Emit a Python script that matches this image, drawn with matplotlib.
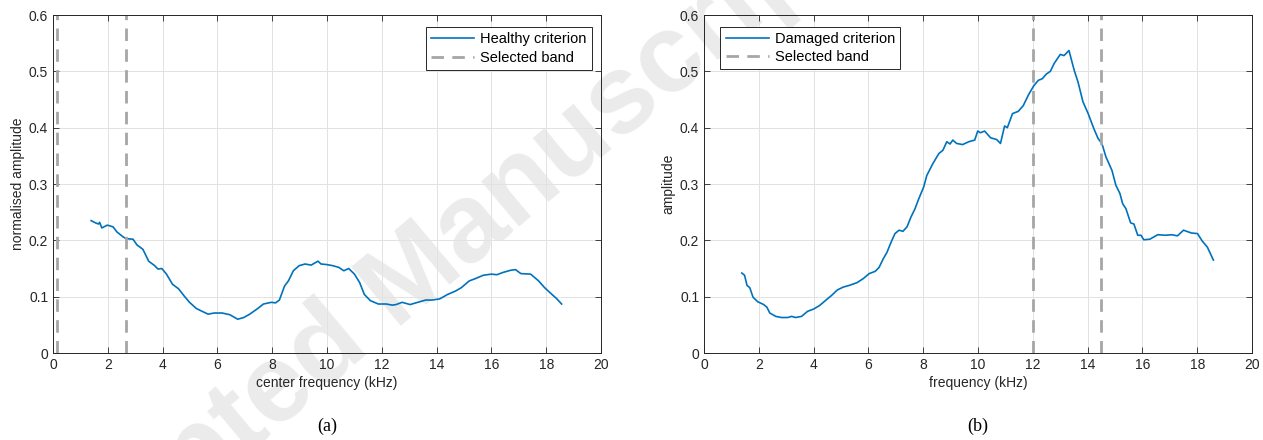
import numpy as np
import matplotlib.pyplot as plt

plt.rcParams['font.family'] = ['Liberation Sans', 'DejaVu Sans']

# healthy criterion (panel a)
healthy_f = [1.39, 1.55, 1.66, 1.70, 1.78, 1.98, 2.19, 2.33, 2.56, 2.67, 2.92, 3.06, 3.28,
             3.49, 3.71, 3.83, 3.97, 4.14, 4.36, 4.58, 4.79, 4.98, 5.23, 5.44, 5.66, 5.88,
             6.17, 6.45, 6.74, 6.96, 7.18, 7.47, 7.68, 7.97, 8.12, 8.26, 8.45, 8.59, 8.77,
             8.98, 9.20, 9.42, 9.56, 9.67, 9.78, 9.99, 10.21, 10.43, 10.61, 10.79, 11.00,
             11.19, 11.36, 11.58, 11.87, 12.16, 12.38, 12.52, 12.74, 13.03, 13.31, 13.60,
             13.82, 14.11, 14.40, 14.69, 14.90, 15.19, 15.41, 15.70, 15.99, 16.20, 16.42,
             16.71, 16.88, 17.07, 17.43, 17.72, 17.94, 18.23, 18.37, 18.56]
healthy_v = [0.235, 0.231, 0.229, 0.232, 0.222, 0.227, 0.224, 0.215, 0.206, 0.203, 0.202,
             0.192, 0.184, 0.163, 0.155, 0.149, 0.150, 0.140, 0.122, 0.114, 0.101, 0.090,
             0.079, 0.074, 0.069, 0.071, 0.071, 0.068, 0.060, 0.063, 0.069, 0.079, 0.087,
             0.090, 0.089, 0.094, 0.119, 0.128, 0.146, 0.155, 0.158, 0.156, 0.160, 0.163,
             0.158, 0.157, 0.155, 0.152, 0.146, 0.150, 0.140, 0.125, 0.104, 0.093, 0.087,
             0.087, 0.085, 0.086, 0.090, 0.086, 0.090, 0.094, 0.094, 0.096, 0.104, 0.110,
             0.116, 0.128, 0.132, 0.138, 0.140, 0.139, 0.143, 0.147, 0.148, 0.141, 0.140,
             0.128, 0.116, 0.103, 0.097, 0.087]
band_a = [0.14, 2.66]

# damaged criterion (panel b)
damaged_f = [1.38, 1.48, 1.57, 1.67, 1.79, 1.96, 2.18, 2.30, 2.40, 2.62, 2.83, 3.05, 3.20,
             3.34, 3.56, 3.78, 4.00, 4.21, 4.43, 4.65, 4.87, 5.08, 5.30, 5.59, 5.81, 6.03,
             6.25, 6.39, 6.54, 6.68, 6.83, 6.97, 7.12, 7.26, 7.41, 7.55, 7.70, 7.84, 8.02,
             8.13, 8.35, 8.57, 8.72, 8.86, 8.98, 9.08, 9.22, 9.44, 9.66, 9.88, 9.99, 10.09,
             10.24, 10.46, 10.68, 10.82, 10.97, 11.07, 11.26, 11.47, 11.65, 11.84, 12.03,
             12.20, 12.35, 12.49, 12.64, 12.78, 13.00, 13.14, 13.32, 13.51, 13.65, 13.83,
             14.02, 14.23, 14.38, 14.52, 14.67, 14.89, 15.03, 15.18, 15.28, 15.40, 15.57,
             15.69, 15.83, 15.95, 16.05, 16.27, 16.56, 16.85, 17.07, 17.28, 17.50, 17.79,
             18.01, 18.18, 18.37, 18.59]
damaged_v = [0.142, 0.138, 0.120, 0.116, 0.099, 0.091, 0.086, 0.081, 0.071, 0.065, 0.063,
             0.063, 0.065, 0.063, 0.065, 0.074, 0.078, 0.084, 0.093, 0.102, 0.112, 0.117,
             0.120, 0.125, 0.132, 0.141, 0.145, 0.152, 0.167, 0.179, 0.197, 0.212, 0.218,
             0.216, 0.224, 0.241, 0.256, 0.274, 0.295, 0.315, 0.336, 0.354, 0.360, 0.375,
             0.371, 0.378, 0.372, 0.370, 0.375, 0.378, 0.394, 0.391, 0.394, 0.382, 0.379,
             0.372, 0.403, 0.400, 0.425, 0.429, 0.439, 0.458, 0.474, 0.484, 0.487, 0.495,
             0.500, 0.514, 0.530, 0.528, 0.537, 0.502, 0.481, 0.446, 0.425, 0.398, 0.381,
             0.372, 0.348, 0.324, 0.298, 0.283, 0.265, 0.256, 0.231, 0.229, 0.209, 0.209,
             0.201, 0.202, 0.210, 0.209, 0.210, 0.208, 0.218, 0.213, 0.212, 0.199, 0.188,
             0.165]
band_b = [12.0, 14.5]

xticks = np.arange(0, 21, 2)
yticks = np.arange(0, 0.61, 0.1)
ytick_labels = ['0', '0.1', '0.2', '0.3', '0.4', '0.5', '0.6']

blue = '#0072BD'
gray = '#a6a6a6'
dark = '#262626'

fig = plt.figure(figsize=(12.63, 4.40), dpi=100)
W, H = 1263, 440

# watermark: place the baseline start of the "M" at a chosen pixel
wm_kw = dict(fontsize=80, fontweight='bold', color='#ebebeb', zorder=-1)
ang = 40
renderer = fig.canvas.get_renderer()
t1 = fig.text(0, 0, 'Accepted M', **wm_kw)
t2 = fig.text(0, 0, 'M', **wm_kw)
prefix = t1.get_window_extent(renderer).width - t2.get_window_extent(renderer).width
t1.remove()
t2.remove()
m_x, m_y = 396, H - 330
x0 = m_x - prefix * np.cos(np.radians(ang))
y0 = m_y - prefix * np.sin(np.radians(ang))
fig.text(x0 / W, y0 / H, 'Accepted Manuscript', rotation=ang, rotation_mode='anchor',
         ha='left', va='baseline', **wm_kw)

ax1 = fig.add_axes([0.0420, 0.1977, 0.4339, 0.7682])
ax2 = fig.add_axes([0.5574, 0.1977, 0.4339, 0.7682])


def style(ax, xlabel, ylabel):
    ax.set_facecolor('none')
    ax.set_xlim(0, 20)
    ax.set_ylim(0, 0.6)
    ax.set_xticks(xticks)
    ax.set_yticks(yticks)
    ax.set_yticklabels(ytick_labels)
    ax.tick_params(direction='in', top=True, right=True, labelsize=10,
                   colors='#262626', length=4, width=0.6)
    ax.grid(True, color='#e2e2e2', linewidth=0.7)
    ax.set_axisbelow(True)
    for s in ax.spines.values():
        s.set_color(dark)
        s.set_linewidth(0.7)
    ax.set_xlabel(xlabel, fontsize=10, color=dark, labelpad=3)
    ax.set_ylabel(ylabel, fontsize=10, color=dark, labelpad=3)


ax1.plot(healthy_f, healthy_v, color=blue, lw=1.2, label='Healthy criterion')
for i, b in enumerate(band_a):
    ax1.axvline(b, color=gray, lw=2, ls=(0, (4.5, 3)),
                label='Selected band' if i == 0 else None)
style(ax1, 'center frequency (kHz)', 'normalised amplitude')
leg1 = ax1.legend(loc='upper right', bbox_to_anchor=(0.983, 0.964), borderaxespad=0,
                  fontsize=10.5, fancybox=False, framealpha=1, edgecolor=dark,
                  handlelength=3.0, handletextpad=0.4, borderpad=0.35, labelspacing=0.3)
leg1.get_frame().set_linewidth(0.7)

ax2.plot(damaged_f, damaged_v, color=blue, lw=1.2, label='Damaged criterion')
for i, b in enumerate(band_b):
    ax2.axvline(b, color=gray, lw=2, ls=(0, (4.5, 3)),
                label='Selected band' if i == 0 else None)
style(ax2, 'frequency (kHz)', 'amplitude')
leg2 = ax2.legend(loc='upper left', bbox_to_anchor=(0.030, 0.965), borderaxespad=0,
                  fontsize=10.5, fancybox=False, framealpha=1, edgecolor=dark,
                  handlelength=3.0, handletextpad=0.4, borderpad=0.35, labelspacing=0.3)
leg2.get_frame().set_linewidth(0.7)

# captions
fig.text(0.0420 + 0.4339 / 2, 0.03, '(a)', family='Liberation Serif', fontsize=13,
         ha='center', va='center')
fig.text(0.5574 + 0.4339 / 2, 0.03, '(b)', family='Liberation Serif', fontsize=13,
         ha='center', va='center')

fig.savefig('out.png', dpi=100)
